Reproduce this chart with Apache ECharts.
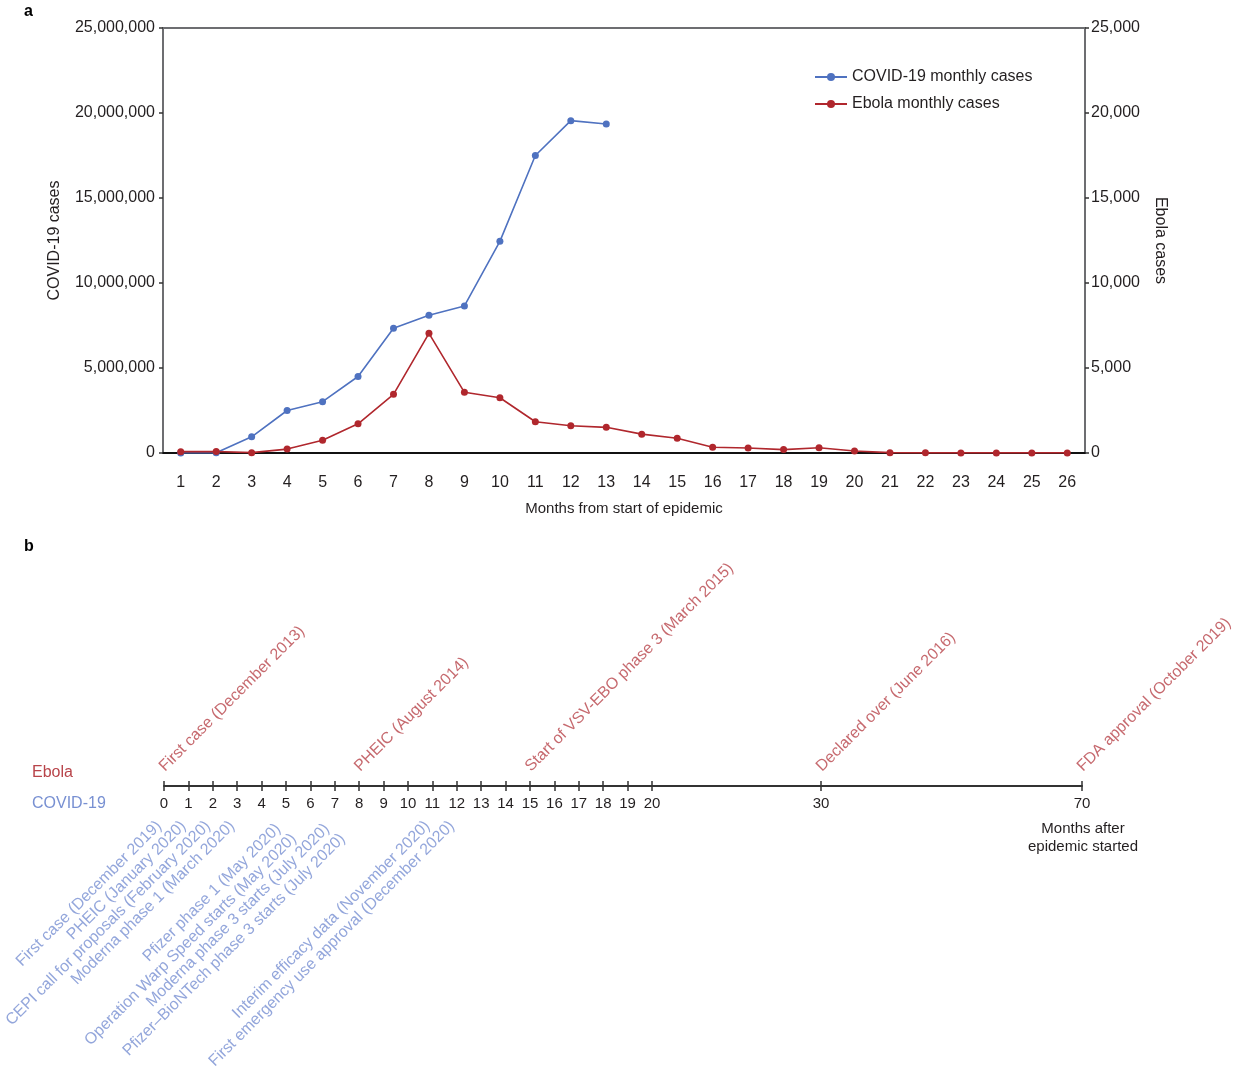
<!DOCTYPE html>
<html>
<head>
<meta charset="utf-8">
<title>COVID-19 and Ebola: cases and vaccine timeline</title>
<script src="https://cdn.jsdelivr.net/npm/echarts@6/dist/echarts.min.js"></script>
<style>
  html, body { margin: 0; padding: 0; background: #fff; }
  #chart { width: 1260px; height: 1070px; }
</style>
</head>
<body>
<div id="chart"></div>
<script>
// panel a: monthly cases
const months = ['1','2','3','4','5','6','7','8','9','10','11','12','13',
                '14','15','16','17','18','19','20','21','22','23','24','25','26'];
const covidCases = [1000, 10000, 950000, 2500000, 3020000, 4500000, 7340000, 8100000,
                    8650000, 12450000, 17500000, 19550000, 19350000];
const ebolaCases = [80, 90, 20, 230, 750, 1720, 3450, 7040, 3570, 3250, 1840, 1600, 1510,
                    1110, 865, 335, 290, 200, 310, 120, 20, 10, 5, 5, 5, 5];

// panel b: timeline (months after epidemic started)
const timelineTicks = [0,1,2,3,4,5,6,7,8,9,10,11,12,13,14,15,16,17,18,19,20,30,70];
const ebolaEvents = ['First case (December 2013)', 'PHEIC (August 2014)',
                     'Start of VSV-EBO phase 3 (March 2015)', 'Declared over (June 2016)',
                     'FDA approval (October 2019)'];
const ebolaEventMonths = [0, 8, 15, 30, 70];
const covidEvents = ['First case (December 2019)', 'PHEIC (January 2020)',
                     'CEPI call for proposals (February 2020)', 'Moderna phase 1 (March 2020)',
                     'Pfizer phase 1 (May 2020)', 'Operation Warp Speed starts (May 2020)',
                     'Moderna phase 3 starts (July 2020)', 'Pfizer\u2013BioNTech phase 3 starts (July 2020)',
                     'Interim efficacy data (November 2020)', 'First emergency use approval (December 2020)'];
const covidEventMonths = [0, 1, 2, 3, 5, 5, 7, 7, 11, 12];

const FONT = 'Liberation Sans, Arial, Helvetica, sans-serif';
const BLUE = '#4f72c0';
const RED = '#b0272d';
const BLUE_TXT = '#7890d2';
const RED_TXT = '#b8444a';
const INK = '#231f20';

// the timeline axis is stretched for 0-20 and squeezed after
function pos(m) {
    if (m <= 20) return m;
    if (m <= 30) return 20 + (m - 20) * 0.693;
    return 26.93 + (m - 30) * 0.2673;
}
const tickPos = timelineTicks.map(pos);

let ebolaData = ebolaEvents.map((name, i) => ({ name: name, value: [pos(ebolaEventMonths[i]), 0] }));

// events in the same month sit side by side (label offset is along the rotated text)
let seen = {};
let covidData = covidEvents.map((name, i) => {
    let m = covidEventMonths[i];
    let k = seen[m] || 0;
    seen[m] = k + 1;
    let dup = covidEventMonths.filter(v => v == m).length > 1;
    let off = !dup ? [-5, -10] : (k == 0 ? [-9, -10] : [-5, 8]);
    return { name: name, value: [pos(m), 0], label: { offset: off } };
});

let myChart = echarts.init(document.getElementById('chart'));
myChart.setOption({
    backgroundColor: '#fff',
    animation: false,
    textStyle: { fontFamily: FONT },
    grid: [
        { left: 163, top: 28, width: 922, height: 425, show: true, borderColor: '#6d6e71', borderWidth: 2 },
        { left: 164, top: 700, width: 918, height: 86 }
    ],
    legend: {
        orient: 'vertical',
        left: 809,
        top: 64,
        itemWidth: 32,
        itemHeight: 10,
        itemGap: 11,
        textStyle: { fontSize: 16, color: INK, fontFamily: FONT },
        data: ['COVID-19 monthly cases', 'Ebola monthly cases']
    },
    xAxis: [
        {
            type: 'category',
            gridIndex: 0,
            data: months,
            boundaryGap: true,
            name: 'Months from start of epidemic',
            nameLocation: 'middle',
            nameGap: 48,
            nameTextStyle: { fontSize: 15, color: INK },
            axisLine: { lineStyle: { color: '#111', width: 2 } },
            axisTick: { alignWithLabel: true, length: 6, lineStyle: { color: '#111', width: 1.5 } },
            axisLabel: { fontSize: 16, color: INK, margin: 22, interval: 0 },
            splitLine: { show: false }
        },
        {
            type: 'value',
            gridIndex: 1,
            position: 'bottom',
            min: 0,
            max: pos(70),
            axisLine: { lineStyle: { color: '#333', width: 2 } },
            axisTick: { customValues: tickPos, length: 5, lineStyle: { color: '#333', width: 1.5 } },
            axisLabel: {
                customValues: tickPos,
                fontSize: 15,
                color: INK,
                margin: 10,
                formatter: function (v) {
                    let t = timelineTicks.find(x => Math.abs(pos(x) - v) < 1e-6);
                    return t == null ? '' : String(t);
                }
            },
            splitLine: { show: false }
        },
        {
            type: 'value',
            gridIndex: 1,
            position: 'bottom',
            min: 0,
            max: pos(70),
            axisLine: { show: false },
            axisTick: { inside: true, customValues: tickPos, length: 5, lineStyle: { color: '#333', width: 1.5 } },
            axisLabel: { show: false },
            splitLine: { show: false }
        }
    ],
    yAxis: [
        {
            type: 'value',
            gridIndex: 0,
            min: 0,
            max: 25000000,
            interval: 5000000,
            name: 'COVID-19 cases',
            nameLocation: 'middle',
            nameGap: 100,
            nameTextStyle: { fontSize: 16, color: INK },
            axisLine: { show: true, lineStyle: { color: '#6d6e71', width: 2 } },
            axisTick: { show: true, length: 4, lineStyle: { color: '#333', width: 1.5 } },
            axisLabel: {
                fontSize: 16, color: INK, margin: 8,
                formatter: v => v.toLocaleString('en-US')
            },
            splitLine: { show: false }
        },
        {
            type: 'value',
            gridIndex: 0,
            position: 'right',
            min: 0,
            max: 25000,
            interval: 5000,
            name: 'Ebola cases',
            nameLocation: 'middle',
            nameRotate: -90,
            nameGap: 67,
            nameTextStyle: { fontSize: 16, color: INK },
            axisLine: { show: true, lineStyle: { color: '#6d6e71', width: 2 } },
            axisTick: { show: true, length: 4, lineStyle: { color: '#333', width: 1.5 } },
            axisLabel: {
                fontSize: 16, color: INK, margin: 6,
                formatter: v => v.toLocaleString('en-US')
            },
            splitLine: { show: false }
        },
        {
            type: 'value',
            gridIndex: 1,
            min: 0,
            max: 1,
            show: false
        }
    ],
    series: [
        {
            name: 'COVID-19 monthly cases',
            type: 'line',
            xAxisIndex: 0,
            yAxisIndex: 0,
            data: covidCases,
            symbol: 'circle',
            symbolSize: 7,
            lineStyle: { color: BLUE, width: 1.6 },
            itemStyle: { color: BLUE },
            z: 3
        },
        {
            name: 'Ebola monthly cases',
            type: 'line',
            xAxisIndex: 0,
            yAxisIndex: 1,
            data: ebolaCases,
            symbol: 'circle',
            symbolSize: 7,
            lineStyle: { color: RED, width: 1.6 },
            itemStyle: { color: RED },
            z: 4
        },
        {
            name: 'Ebola events',
            type: 'scatter',
            xAxisIndex: 1,
            yAxisIndex: 2,
            data: ebolaData,
            symbolSize: 1,
            itemStyle: { color: 'rgba(0,0,0,0)' },
            silent: true,
            label: {
                show: true,
                formatter: '{b}',
                position: 'top',
                distance: 13,
                align: 'left',
                verticalAlign: 'bottom',
                rotate: 45,
                offset: [1, 4],
                fontSize: 16,
                color: RED_TXT,
                fontFamily: FONT
            }
        },
        {
            name: 'COVID-19 events',
            type: 'scatter',
            xAxisIndex: 1,
            yAxisIndex: 2,
            data: covidData,
            symbolSize: 1,
            itemStyle: { color: 'rgba(0,0,0,0)' },
            silent: true,
            label: {
                show: true,
                formatter: '{b}',
                position: 'bottom',
                distance: 35,
                align: 'right',
                verticalAlign: 'top',
                rotate: 45,
                fontSize: 16,
                color: BLUE_TXT,
                fontFamily: FONT
            }
        }
    ],
    graphic: [
        { type: 'text', x: 24, y: 4, style: { text: 'a', fontSize: 16, fontWeight: 'bold', fill: '#000', fontFamily: FONT } },
        { type: 'text', x: 24, y: 539, style: { text: 'b', fontSize: 16, fontWeight: 'bold', fill: '#000', fontFamily: FONT } },
        { type: 'text', x: 32, y: 773, style: { text: 'Ebola', fontSize: 16, fill: RED_TXT, fontFamily: FONT, textVerticalAlign: 'middle' } },
        { type: 'text', x: 32, y: 804, style: { text: 'COVID-19', fontSize: 16, fill: BLUE_TXT, fontFamily: FONT, textVerticalAlign: 'middle' } },
        { type: 'text', x: 1083, y: 820, style: { text: 'Months after\nepidemic started', fontSize: 15, lineHeight: 18, fill: INK, fontFamily: FONT, textAlign: 'center' } }
    ]
});
</script>
</body>
</html>
